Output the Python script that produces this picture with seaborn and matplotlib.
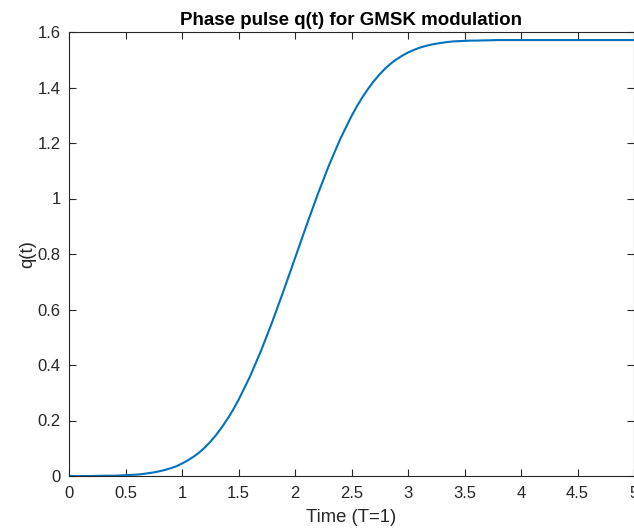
import matplotlib
matplotlib.use("Agg")
import matplotlib.pyplot as plt
import seaborn as sns
import pandas as pd
from matplotlib.ticker import FuncFormatter

# Time axis (T=1) and phase pulse values
time = [0.0, 0.1, 0.2, 0.3, 0.4, 0.45, 0.5, 0.55, 0.6, 0.65, 0.7, 0.75,
        0.8, 0.85, 0.9, 0.95, 1.0, 1.05, 1.1, 1.15, 1.2, 1.25, 1.3, 1.35,
        1.4, 1.45, 1.5, 1.6, 1.7, 1.8, 1.9, 2.0, 2.1, 2.2, 2.3, 2.4,
        2.5, 2.55, 2.6, 2.65, 2.7, 2.75, 2.8, 2.85, 2.9, 2.95, 3.0, 3.05,
        3.1, 3.15, 3.2, 3.25, 3.3, 3.35, 3.4, 3.45, 3.5, 3.55, 3.6, 3.7,
        3.8, 3.9, 4.0, 4.2, 4.4, 4.6, 4.8, 5.0]
q = [0.000, 0.000, 0.000, 0.001, 0.001, 0.002, 0.003, 0.004, 0.005, 0.007, 0.010, 0.013,
     0.017, 0.022, 0.028, 0.035, 0.045, 0.056, 0.069, 0.084, 0.102, 0.123, 0.147, 0.174,
     0.204, 0.237, 0.274, 0.357, 0.452, 0.557, 0.669, 0.785, 0.901, 1.014, 1.119, 1.214,
     1.297, 1.334, 1.367, 1.397, 1.424, 1.448, 1.469, 1.487, 1.502, 1.515, 1.526, 1.535,
     1.543, 1.549, 1.554, 1.558, 1.561, 1.564, 1.566, 1.567, 1.568, 1.569, 1.569, 1.570,
     1.571, 1.571, 1.571, 1.571, 1.571, 1.571, 1.571, 1.571]

x_ticks = [0, 0.5, 1, 1.5, 2, 2.5, 3, 3.5, 4, 4.5, 5]
y_ticks = [0, 0.2, 0.4, 0.6, 0.8, 1.0, 1.2, 1.4, 1.6]

title = "Phase pulse q(t) for GMSK modulation"
x_label = "Time (T=1)"
y_label = "q(t)"

sns.set_style("white")
plt.rcParams['font.family'] = ['Liberation Sans', 'DejaVu Sans']

fig = plt.figure(figsize=(6.34, 5.29), dpi=100)
ax = fig.add_axes([69 / 634, 1 - 476 / 529, (634 - 69) / 634, (476 - 32) / 529])

df = pd.DataFrame({"t": time, "q": q})
sns.lineplot(data=df, x="t", y="q", ax=ax, color="#0072BD", linewidth=1.5)

ax.set_xlim(0, 5)
ax.set_ylim(0, 1.6)
ax.set_xticks(x_ticks)
ax.set_yticks(y_ticks)
fmt = FuncFormatter(lambda v, p: f"{v:g}")
ax.xaxis.set_major_formatter(fmt)
ax.yaxis.set_major_formatter(fmt)

axcol = "#262626"
for s in ax.spines.values():
    s.set_visible(True)
    s.set_color(axcol)
    s.set_linewidth(0.8)
ax.tick_params(direction="in", length=5, width=0.8, color=axcol,
               labelcolor=axcol, labelsize=12, top=True, right=True,
               bottom=True, left=True)
ax.tick_params(axis="x", pad=7)
ax.tick_params(axis="y", pad=6)

ax.set_title(title, fontsize=13.5, fontweight="bold", color="black", pad=5)
ax.set_xlabel(x_label, fontsize=13.3, color=axcol, labelpad=6)
ax.set_ylabel(y_label, fontsize=13.3, color=axcol, labelpad=1)

fig.savefig("out.png", dpi=100)
